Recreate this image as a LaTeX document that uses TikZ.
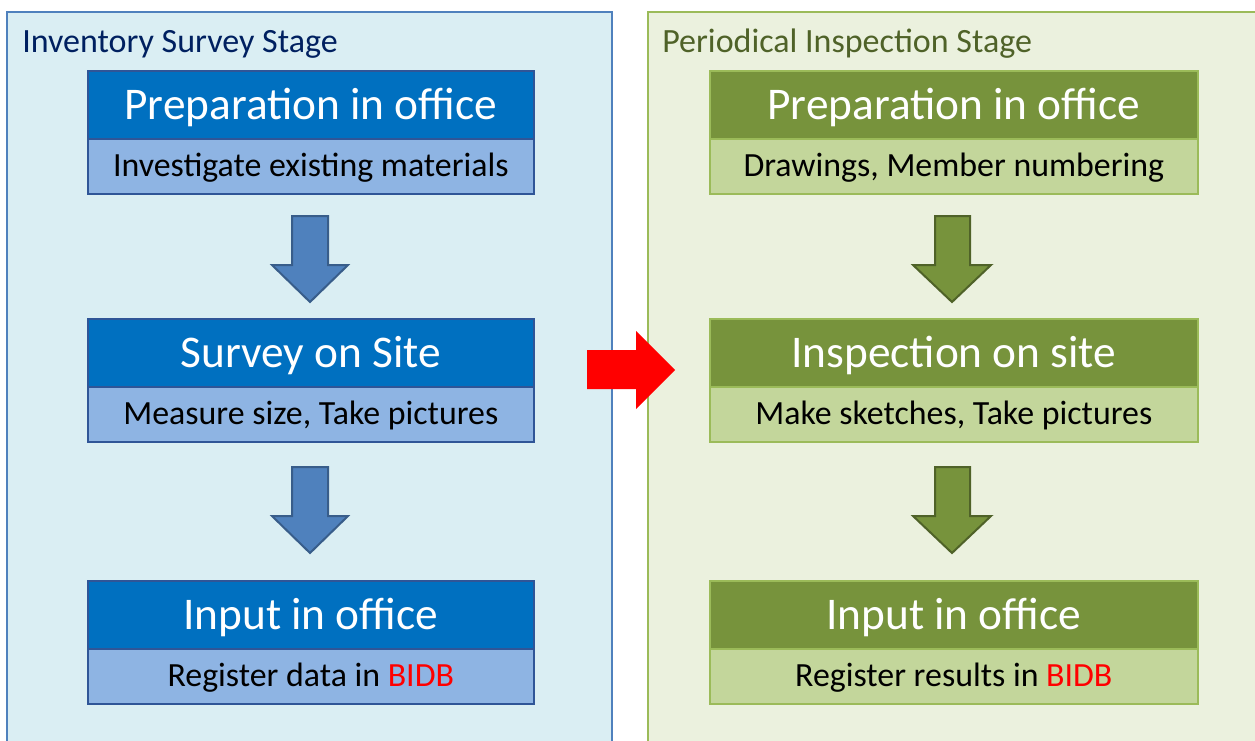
\documentclass[tikz,border=0pt]{standalone}
\usepackage{fontspec}
\setmainfont{Carlito}
\definecolor{lpfill}{HTML}{DAEEF3}
\definecolor{lpline}{HTML}{4F81BD}
\definecolor{rpfill}{HTML}{EBF1DE}
\definecolor{rpline}{HTML}{9BBB59}
\definecolor{bhead}{HTML}{0070C0}
\definecolor{bsub}{HTML}{8EB4E3}
\definecolor{bline}{HTML}{2F5597}
\definecolor{ghead}{HTML}{77933C}
\definecolor{gsub}{HTML}{C3D69B}
\definecolor{gline}{HTML}{9BBB59}
\definecolor{barrow}{HTML}{4F81BD}
\definecolor{barrowline}{HTML}{385D8A}
\definecolor{garrowline}{HTML}{4F6228}
\definecolor{ltitle}{HTML}{002060}
\definecolor{rtitle}{HTML}{4F6228}
\tikzset{
  box/.style={rectangle, inner sep=0pt, anchor=north west, line width=1.2pt},
  bhd/.style={box, fill=bhead, draw=bline, text=white, minimum width=334.5pt, minimum height=51pt, text depth=2pt, font=\fontsize{34}{40}\selectfont},
  bsb/.style={box, fill=bsub, draw=bline, text=black, minimum width=334.5pt, minimum height=41.25pt, text depth=1.8pt, font=\fontsize{25.4}{30}\selectfont},
  ghd/.style={box, fill=ghead, draw=gline, text=white, minimum width=366pt, minimum height=51pt, text depth=2pt, font=\fontsize{34}{40}\selectfont},
  gsb/.style={box, fill=gsub, draw=gline, text=black, minimum width=366pt, minimum height=41.25pt, text depth=1.8pt, font=\fontsize{25.4}{30}\selectfont},
  titlel/.style={anchor=base west, inner sep=0pt, text=ltitle, font=\fontsize{25.5}{30}\selectfont},
  titler/.style={anchor=base west, inner sep=0pt, text=rtitle, font=\fontsize{25.5}{30}\selectfont},
  barr/.style={fill=barrow, draw=barrowline, line width=1.5pt, line join=miter},
  garr/.style={fill=ghead, draw=garrowline, line width=1.5pt, line join=miter},
}
\begin{document}
\begin{tikzpicture}[x=0.75pt,y=-0.75pt]
\useasboundingbox (0,0) rectangle (1255,740);
\fill[white] (0,0) rectangle (1255,740);
% panels
\draw[fill=lpfill, draw=lpline, line width=0.8pt] (7,12) rectangle (612,760);
\draw[fill=rpfill, draw=rpline, line width=0.8pt] (648,12) rectangle (1270,760);
\node[titlel] (tl) at (22,52) {Inventory Survey Stage};
\node[titler] (tr) at (662,52) {Periodical Inspection Stage};
% left column
\node[bhd] (lh1) at (87,70) {Preparation in office};
\node[bsb] (ls1) at (87,138) {Investigate existing materials};
\node[bhd] (lh2) at (87,318) {Survey on Site};
\node[bsb] (ls2) at (87,386) {Measure size, Take pictures};
\node[bhd] (lh3) at (87,580) {Input in office};
\node[bsb] (ls3) at (87,648) {Register data in \textcolor{red}{BIDB}};
% right column
\node[ghd] (rh1) at (709,70) {Preparation in office};
\node[gsb] (rs1) at (709,138) {Drawings, Member numbering};
\node[ghd] (rh2) at (709,318) {Inspection on site};
\node[gsb] (rs2) at (709,386) {Make sketches, Take pictures};
\node[ghd] (rh3) at (709,580) {Input in office};
\node[gsb] (rs3) at (709,648) {Register results in \textcolor{red}{BIDB}};
% block arrows left
\draw[barr] (292,216) -- (328,216) -- (328,265) -- (348,265) -- (310,302) -- (272,265) -- (292,265) -- cycle;
\draw[barr] (292,467) -- (328,467) -- (328,516) -- (348,516) -- (310,553) -- (272,516) -- (292,516) -- cycle;
% block arrows right
\draw[garr] (935,216) -- (970,216) -- (970,265) -- (991,265) -- (952,302) -- (913,265) -- (935,265) -- cycle;
\draw[garr] (935,467) -- (970,467) -- (970,516) -- (991,516) -- (952,553) -- (913,516) -- (935,516) -- cycle;
% red arrow
\fill[red] (587,350) -- (636,350) -- (636,331) -- (675,370) -- (636,409) -- (636,389) -- (587,389) -- cycle;
\end{tikzpicture}
\end{document}
